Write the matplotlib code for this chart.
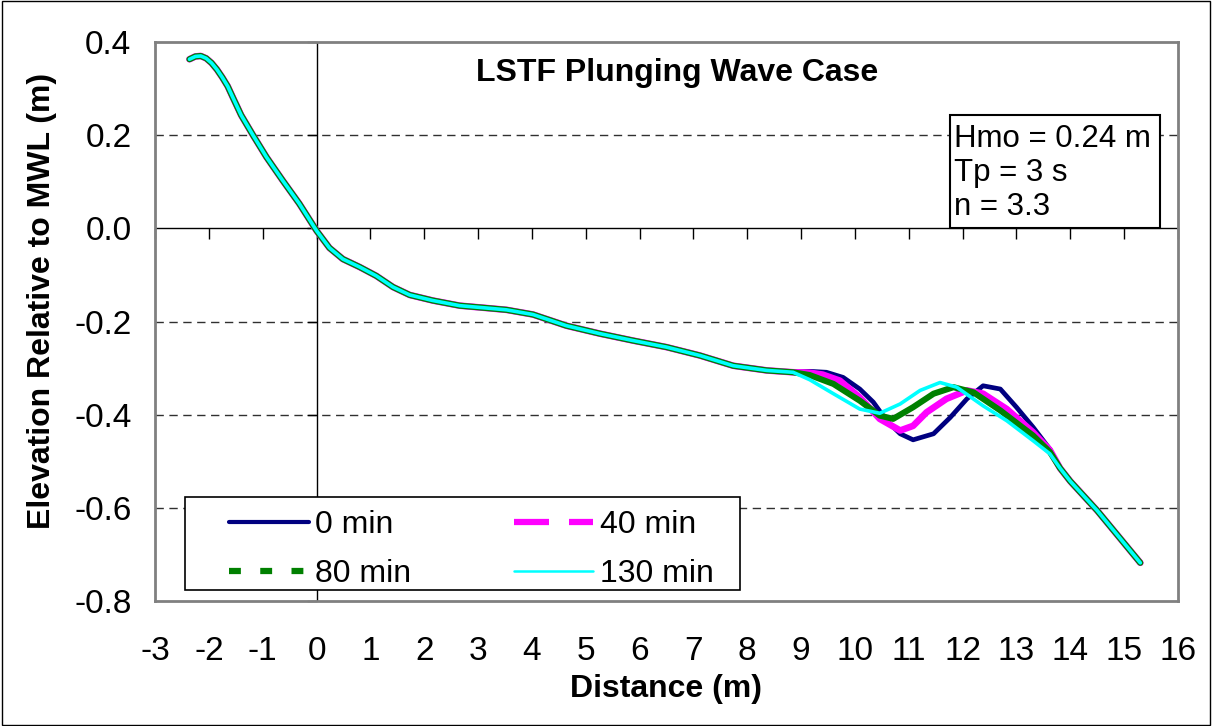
import numpy as np
import matplotlib
matplotlib.use("Agg")
import matplotlib.pyplot as plt
from matplotlib.lines import Line2D
from matplotlib.patches import Rectangle

plt.rcParams['font.family'] = ['Liberation Sans', 'DejaVu Sans']

# Beach profile shared by all runs (landward part and offshore tail)
x_front = [-2.36, -2.25, -2.15, -2.05, -1.95, -1.85, -1.75, -1.65, -1.55, -1.40,
           -1.18, -0.93, -0.63, -0.32, 0.0, 0.24, 0.49, 0.80, 1.11, 1.42, 1.73, 2.16,
           2.66, 3.15, 3.53, 4.02, 4.64, 5.26, 5.88, 6.50, 7.12, 7.74, 8.36, 8.85]
z_front = [0.363, 0.369, 0.370, 0.365, 0.355, 0.341, 0.324, 0.305, 0.280, 0.243,
           0.200, 0.153, 0.103, 0.053, -0.005, -0.042, -0.066, -0.083, -0.102,
           -0.126, -0.143, -0.155, -0.166, -0.171, -0.175, -0.185, -0.209, -0.226,
           -0.241, -0.255, -0.273, -0.295, -0.305, -0.309]
x_tail = [13.81, 14.0, 14.5, 15.0, 15.3]
z_tail = [-0.515, -0.543, -0.606, -0.676, -0.718]

# Bar region, one profile per survey time
x_0 = [9.16, 9.47, 9.78, 10.09, 10.34, 10.59, 10.84, 11.08, 11.46, 11.77, 12.08,
       12.38, 12.70, 13.0, 13.31, 13.62]
z_0 = [-0.307, -0.309, -0.320, -0.345, -0.373, -0.413, -0.441, -0.454, -0.441,
       -0.406, -0.366, -0.338, -0.345, -0.384, -0.427, -0.474]
x_40 = [9.16, 9.4, 9.72, 10.09, 10.46, 10.84, 11.08, 11.33, 11.70, 12.08, 12.38,
        12.82, 13.31, 13.62]
z_40 = [-0.310, -0.314, -0.327, -0.363, -0.409, -0.434, -0.424, -0.395, -0.366,
        -0.348, -0.355, -0.388, -0.438, -0.476]
x_80 = [9.16, 9.60, 10.09, 10.46, 10.71, 11.08, 11.46, 11.83, 12.20, 12.70, 13.31,
        13.62]
z_80 = [-0.315, -0.334, -0.370, -0.402, -0.409, -0.384, -0.355, -0.341, -0.352,
        -0.391, -0.445, -0.480]
x_130 = [9.16, 9.60, 10.09, 10.46, 10.84, 11.21, 11.58, 11.89, 12.38, 12.82, 13.31,
         13.62]
z_130 = [-0.325, -0.355, -0.388, -0.397, -0.377, -0.348, -0.331, -0.341, -0.381,
         -0.413, -0.456, -0.484]

labels = ['0 min', '40 min', '80 min', '130 min']
colors = ['#000080', '#ff00ff', '#008000', '#00ffff']
widths = [3.4, 4.8, 4.4, 2.6]
leg_dash = ['-', (0, (5.6, 3.2)), (0, (1.9, 3.1)), '-']
leg_widths = [3.0, 4.5, 4.5, 1.8]

xticks = np.arange(-3, 17, 1)
yticks = np.round(np.arange(-0.8, 0.41, 0.2), 1)

fig = plt.figure(figsize=(12.12, 7.26), dpi=100)
ax = fig.add_axes([155 / 1212, 1 - 601 / 726, 1023 / 1212, 559 / 726])

profiles = [(x_0, z_0), (x_40, z_40), (x_80, z_80), (x_130, z_130)]
for (xs, zs), c, w in zip(profiles, colors, widths):
    xx = np.concatenate([x_front, xs, x_tail])
    zz = np.concatenate([z_front, zs, z_tail])
    ax.plot(xx, zz, color=c, lw=w, solid_joinstyle='round', solid_capstyle='round',
            zorder=3)

ax.set_xlim(-3, 16)
ax.set_ylim(-0.8, 0.4)
ax.set_xticks(xticks)
ax.set_yticks(yticks)
ax.set_xticklabels([str(v) for v in xticks])
ax.set_yticklabels(['%.1f' % (v + 0.0) for v in yticks])
ax.tick_params(length=0, labelsize=24)
ax.tick_params(axis='x', pad=25)
ax.tick_params(axis='y', pad=17)

for s in ax.spines.values():
    s.set_color('#808080')
    s.set_linewidth(2)

# dashed gridlines, solid axis lines through the origin
for v in yticks[1:-1]:
    if v != 0:
        ax.axhline(v, color='#303030', lw=1, ls=(0, (6, 4)), zorder=1)
ax.axhline(0, color='black', lw=1, zorder=2)
ax.axvline(0, color='black', lw=1, zorder=2)
ax.plot(xticks, np.zeros_like(xticks), ls='none', marker=3, ms=8, mew=1,
        color='black', zorder=2, clip_on=False)
ax.plot(np.zeros_like(yticks), yticks, ls='none', marker=0, ms=7, mew=1,
        color='black', zorder=2, clip_on=False)

ax.set_xlabel('Distance (m)', fontsize=23, fontweight='bold', va='center')
ax.xaxis.set_label_coords(0.5, (601 - 689) / 559)
ax.set_ylabel('Elevation Relative to MWL (m)', fontsize=23, fontweight='bold',
              va='center')
ax.yaxis.set_label_coords((42 - 155) / 1023, (601 - 301) / 559)

# legend box and entries
ax.add_patch(Rectangle(((185 - 155) / 1023, (601 - 590) / 559), 555 / 1023, 93 / 559,
                       transform=ax.transAxes, fc='white', ec='black', lw=1.2,
                       zorder=5))
handles = [Line2D([], [], color=c, lw=w, ls=d, solid_capstyle='round',
                  dash_capstyle='butt')
           for c, w, d in zip(colors, leg_widths, leg_dash)]
leg = ax.legend([handles[0], handles[2], handles[1], handles[3]],
                [labels[0], labels[2], labels[1], labels[3]],
                ncol=2, loc='upper left',
                bbox_to_anchor=((229 - 155) / 1023, (601 - 510) / 559),
                fontsize=23, frameon=False, handlelength=2.5,
                handletextpad=0.2, columnspacing=3.2, borderpad=0,
                labelspacing=0.6, borderaxespad=0)
leg.set_zorder(6)

fig.text(677 / 1212, 1 - 73 / 726, 'LSTF Plunging Wave Case', ha='center',
         va='center', fontsize=23, fontweight='bold')

# wave conditions box
fig.patches.append(Rectangle((950 / 1212, 1 - 228 / 726), 210 / 1212, 113 / 726,
                             transform=fig.transFigure, fc='white', ec='black',
                             lw=1.5, zorder=3))
fig.text(954 / 1212, 1 - 173 / 726, 'Hmo = 0.24 m\nTp = 3 s\nn = 3.3',
         ha='left', va='center', fontsize=22.5, linespacing=1.19, zorder=4)

fig.patches.append(Rectangle((0.002, 0.002), 0.996, 0.996, transform=fig.transFigure,
                             fill=False, ec='black', lw=1))

fig.savefig('out.png', dpi=100)
